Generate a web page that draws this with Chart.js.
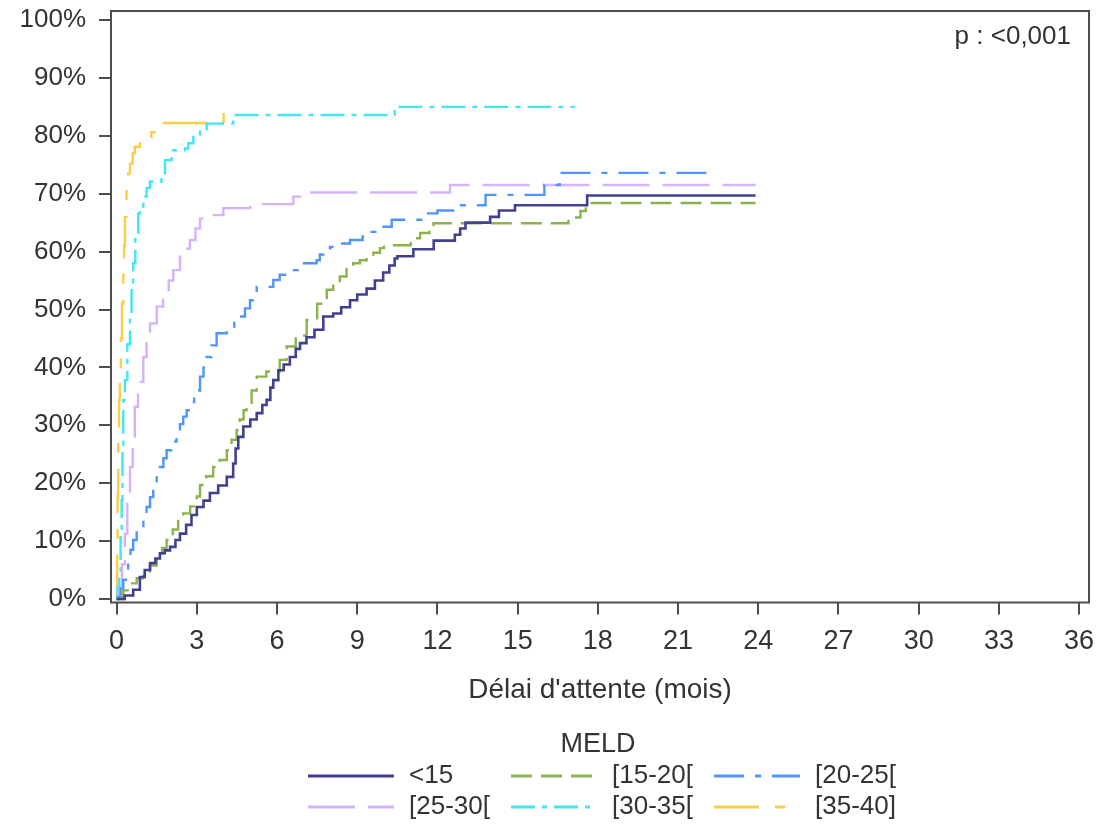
<!DOCTYPE html>
<html>
<head>
<meta charset="utf-8">
<title>MELD – délai d'attente</title>
<script src="https://cdn.jsdelivr.net/npm/chart.js@4/dist/chart.umd.min.js"></script>
<style>
  html, body { margin: 0; padding: 0; background: #ffffff; }
  #wrap { width: 1114px; height: 825px; }
</style>
</head>
<body>
<div id="wrap"><canvas id="c" width="1114" height="825"></canvas></div>
<script>
// Cumulative incidence by MELD group: [month, percent] after each event.
const groupLabels = ['<15', '[15-20[', '[20-25[', '[25-30[', '[30-35[', '[35-40]'];
const legendTitle = 'MELD';
const pValueText = 'p : <0,001';
const xAxisTitle = "Délai d'attente (mois)";

const xTickValues = [0, 3, 6, 9, 12, 15, 18, 21, 24, 27, 30, 33, 36];
const xTickLabels = ['0', '3', '6', '9', '12', '15', '18', '21', '24', '27', '30', '33', '36'];
const yTickValues = [0, 10, 20, 30, 40, 50, 60, 70, 80, 90, 100];
const yTickLabels = ['0%', '10%', '20%', '30%', '40%', '50%', '60%', '70%', '80%', '90%', '100%'];

const meldLt15 = [[0,0],[0.3,0.6],[0.62,1.6],[0.87,3.8],[1.05,5.0],[1.25,6.2],[1.45,7.0],[1.62,7.9],[1.8,8.4],[2.0,9.0],
  [2.2,10.2],[2.37,11.3],[2.6,12.8],[2.8,14.5],[3.0,15.9],[3.25,17.0],[3.49,18.3],[3.8,19.6],[4.12,21.1],[4.36,23.4],
  [4.45,26.0],[4.55,28.0],[4.74,29.8],[5.0,31.0],[5.24,32.1],[5.45,33.5],[5.61,34.4],[5.75,36.5],[5.86,37.8],[6.05,39.5],
  [6.25,40.5],[6.48,41.8],[6.7,43.2],[6.86,44.2],[7.1,45.2],[7.4,46.5],[7.73,48.8],[8.1,49.3],[8.4,50.4],[8.73,51.6],
  [9.0,52.6],[9.35,53.6],[9.66,55.0],[9.97,56.4],[10.2,57.6],[10.4,58.8],[10.5,59.2],[11.1,60.4],[11.86,61.9],[12.65,62.9],
  [12.85,64.0],[13.05,65.0],[13.97,66.0],[14.3,67.1],[14.9,68.0],[17.6,69.7],[23.9,69.7]];

const meld15to20 = [[0,0],[0.25,1.5],[0.5,2.7],[0.75,3.6],[1.0,4.4],[1.25,5.8],[1.5,7.3],[1.7,8.8],[1.87,10.2],[2.1,12.0],
  [2.3,13.5],[2.49,14.8],[2.75,16.0],[3.0,17.7],[3.12,19.7],[3.35,21.2],[3.61,22.8],[3.85,24.0],[4.12,25.7],[4.3,27.5],
  [4.49,29.2],[4.6,31.0],[4.75,32.6],[4.86,33.2],[5.05,36.0],[5.24,38.4],[5.6,39.3],[6.1,41.3],[6.36,43.6],[6.7,45.5],
  [7.11,48.2],[7.5,51.0],[7.86,53.4],[8.1,54.6],[8.35,55.7],[8.6,57.0],[8.85,58.0],[9.1,58.5],[9.35,59.1],[9.6,59.8],
  [9.85,60.6],[10.0,61.1],[11.0,62.3],[11.35,63.2],[11.7,64.6],[11.85,64.9],[16.9,65.9],[17.35,67.0],[17.55,68.4],[23.9,68.4]];

const meld20to25 = [[0,0],[0.06,0.4],[0.15,1.8],[0.25,3.3],[0.35,5.0],[0.43,6.7],[0.52,8.5],[0.62,10.2],[0.75,11.5],[0.87,12.5],
  [1.0,14.2],[1.12,15.9],[1.25,17.6],[1.37,19.4],[1.5,21.0],[1.62,22.8],[1.75,24.3],[1.87,25.7],[2.05,27.2],[2.24,28.6],
  [2.37,30.2],[2.49,31.5],[2.62,32.6],[2.74,34.0],[2.9,36.0],[3.12,38.4],[3.25,40.0],[3.37,41.8],[3.55,43.8],[3.74,45.9],
  [4.12,47.0],[4.4,47.9],[4.61,48.8],[4.8,50.2],[4.99,51.6],[5.1,52.8],[5.24,53.9],[5.86,55.1],[6.1,56.0],[6.36,56.8],
  [6.86,58.0],[7.48,58.5],[7.6,59.5],[7.73,60.3],[7.98,60.8],[8.35,61.4],[8.73,62.0],[9.2,62.6],[9.48,63.4],[9.85,64.3],
  [10.29,65.5],[11.5,66.6],[12.0,67.1],[12.6,68.0],[13.8,69.8],[16.0,71.5],[16.57,73.6],[22.16,73.6]];

const meld25to30 = [[0,0],[0.06,1.0],[0.12,2.1],[0.2,6.0],[0.31,11.3],[0.4,17.0],[0.5,22.8],[0.6,28.0],[0.68,33.2],[0.8,37.5],
  [1.0,41.8],[1.12,45.0],[1.25,47.6],[1.5,50.5],[1.74,52.8],[1.95,55.0],[2.12,56.8],[2.37,59.1],[2.55,60.5],[2.74,62.0],
  [2.95,64.0],[3.12,65.7],[3.35,66.3],[3.99,67.5],[5.0,68.2],[6.61,69.5],[7.2,70.2],[12.47,71.5],[23.9,71.5]];

const meld30to35 = [[0,0],[0.03,2.0],[0.1,4.5],[0.15,11.0],[0.19,17.1],[0.22,26.0],[0.25,34.4],[0.31,37.8],[0.4,44.0],[0.5,49.3],
  [0.56,54.0],[0.62,58.0],[0.7,62.5],[0.81,66.6],[0.87,67.8],[1.0,69.5],[1.12,71.0],[1.25,72.1],[1.68,72.9],[1.81,75.8],
  [2.06,77.5],[2.56,77.8],[2.68,78.7],[2.87,79.8],[3.12,80.7],[3.37,82.1],[4.36,83.6],[10.4,85.0],[17.14,85.0]];

const meld35to40 = [[0,0],[0.02,8.0],[0.04,18.0],[0.06,28.0],[0.09,34.4],[0.12,39.0],[0.16,45.0],[0.2,51.0],[0.25,56.0],[0.28,61.0],
  [0.31,66.0],[0.37,71.2],[0.43,73.5],[0.5,75.2],[0.6,77.0],[0.68,78.1],[0.87,79.0],[1.06,79.8],[1.3,80.6],[1.5,81.3],
  [1.62,82.2],[4.0,84.2],[4.06,84.2]];

const groupSeries = [meldLt15, meld15to20, meld20to25, meld25to30, meld30to35, meld35to40];

// Line appearance per group
const groupStyles = [
  { color: '#40408f', dash: [],              width: 2.6 },
  { color: '#8bb24c', dash: [21, 9],         width: 2.4 },
  { color: '#4f95fb', dash: [30, 11, 6, 11], width: 2.4 },
  { color: '#d4b2fd', dash: [47, 13],        width: 2.4 },
  { color: '#3fe6f4', dash: [24, 7, 5, 7],   width: 2.4 },
  { color: '#fdcd45', dash: [45, 16, 10, 16], width: 2.4 }
];

const FONT = '"Liberation Sans", Arial, Helvetica, sans-serif';
const TEXT = '#333333';
const FRAME = '#4d4d4d';

const datasets = groupSeries.map((series, i) => ({
  label: groupLabels[i],
  data: series.map(([m, p]) => ({ x: m, y: p })),
  borderColor: groupStyles[i].color,
  borderWidth: groupStyles[i].width,
  borderDash: groupStyles[i].dash,
  stepped: 'before',
  pointRadius: 0,
  fill: false,
  tension: 0
}));

// Frame around the plotting area
const framePlugin = {
  id: 'frame',
  afterDatasetsDraw(chart) {
    const { ctx, chartArea: a } = chart;
    ctx.save();
    ctx.strokeStyle = FRAME;
    ctx.lineWidth = 2;
    ctx.strokeRect(a.left, a.top, a.right - a.left, a.bottom - a.top);
    ctx.restore();
  }
};

// p-value note in the upper right corner
const pValuePlugin = {
  id: 'pValue',
  afterDraw(chart) {
    const { ctx, chartArea: a } = chart;
    ctx.save();
    ctx.font = '26px ' + FONT;
    ctx.fillStyle = TEXT;
    ctx.textAlign = 'right';
    ctx.textBaseline = 'alphabetic';
    ctx.fillText(pValueText, a.right - 18, a.top + 33);
    ctx.restore();
  }
};

// Legend laid out as a 3-column grid under the axis title
const gridLegendPlugin = {
  id: 'gridLegend',
  afterDraw(chart) {
    const ctx = chart.ctx;
    const cx = (chart.chartArea.left + chart.chartArea.right) / 2 - 2;
    const colX = [308, 511, 714];
    const rowY = [776, 807];
    const sample = 86;
    ctx.save();
    ctx.fillStyle = TEXT;
    ctx.font = '27px ' + FONT;
    ctx.textAlign = 'center';
    ctx.textBaseline = 'middle';
    ctx.fillText(legendTitle, cx, 745);
    ctx.font = '26px ' + FONT;
    chart.data.datasets.forEach((ds, i) => {
      const r = Math.floor(i / 3), c = i % 3;
      const y = rowY[r];
      ctx.strokeStyle = ds.borderColor;
      ctx.lineWidth = 3;
      ctx.setLineDash(ds.borderDash || []);
      ctx.beginPath();
      ctx.moveTo(colX[c], y);
      ctx.lineTo(colX[c] + sample, y);
      ctx.stroke();
      ctx.setLineDash([]);
      ctx.textAlign = 'left';
      ctx.fillText(ds.label, colX[c] + sample + 15, y);
    });
    ctx.restore();
  }
};

new Chart(document.getElementById('c'), {
  type: 'line',
  data: { datasets },
  options: {
    responsive: false,
    animation: false,
    events: [],
    layout: { padding: { left: 0, right: 25, top: 11, bottom: 0 } },
    plugins: {
      legend: { display: false },
      tooltip: { enabled: false }
    },
    scales: {
      x: {
        type: 'linear',
        min: -0.21,
        max: 36.37,
        afterFit: (s) => { s.height = 222.5; s.paddingLeft = 0; s.paddingRight = 0; },
        afterBuildTicks: (s) => { s.ticks = xTickValues.map(v => ({ value: v })); },
        border: { display: false },
        grid: { drawOnChartArea: false, drawTicks: true, tickLength: 12, color: FRAME, lineWidth: 2 },
        ticks: {
          autoSkip: false, maxRotation: 0, padding: 11,
          color: TEXT, font: { family: FONT, size: 27 },
          callback: (v, i) => xTickLabels[i]
        },
        title: {
          display: true, text: xAxisTitle, color: TEXT,
          font: { family: FONT, size: 28 },
          padding: { top: 0, bottom: 118 }
        }
      },
      y: {
        type: 'linear',
        min: -0.6,
        max: 101.55,
        afterFit: (s) => { s.width = 111; s.paddingTop = 0; s.paddingBottom = 0; },
        afterBuildTicks: (s) => { s.ticks = yTickValues.map(v => ({ value: v })); },
        border: { display: false },
        grid: { drawOnChartArea: false, drawTicks: true, tickLength: 12, color: FRAME, lineWidth: 2 },
        ticks: {
          autoSkip: false, padding: 13,
          color: TEXT, font: { family: FONT, size: 26 },
          callback: (v, i) => yTickLabels[i]
        }
      }
    }
  },
  plugins: [framePlugin, pValuePlugin, gridLegendPlugin]
});
</script>
</body>
</html>
